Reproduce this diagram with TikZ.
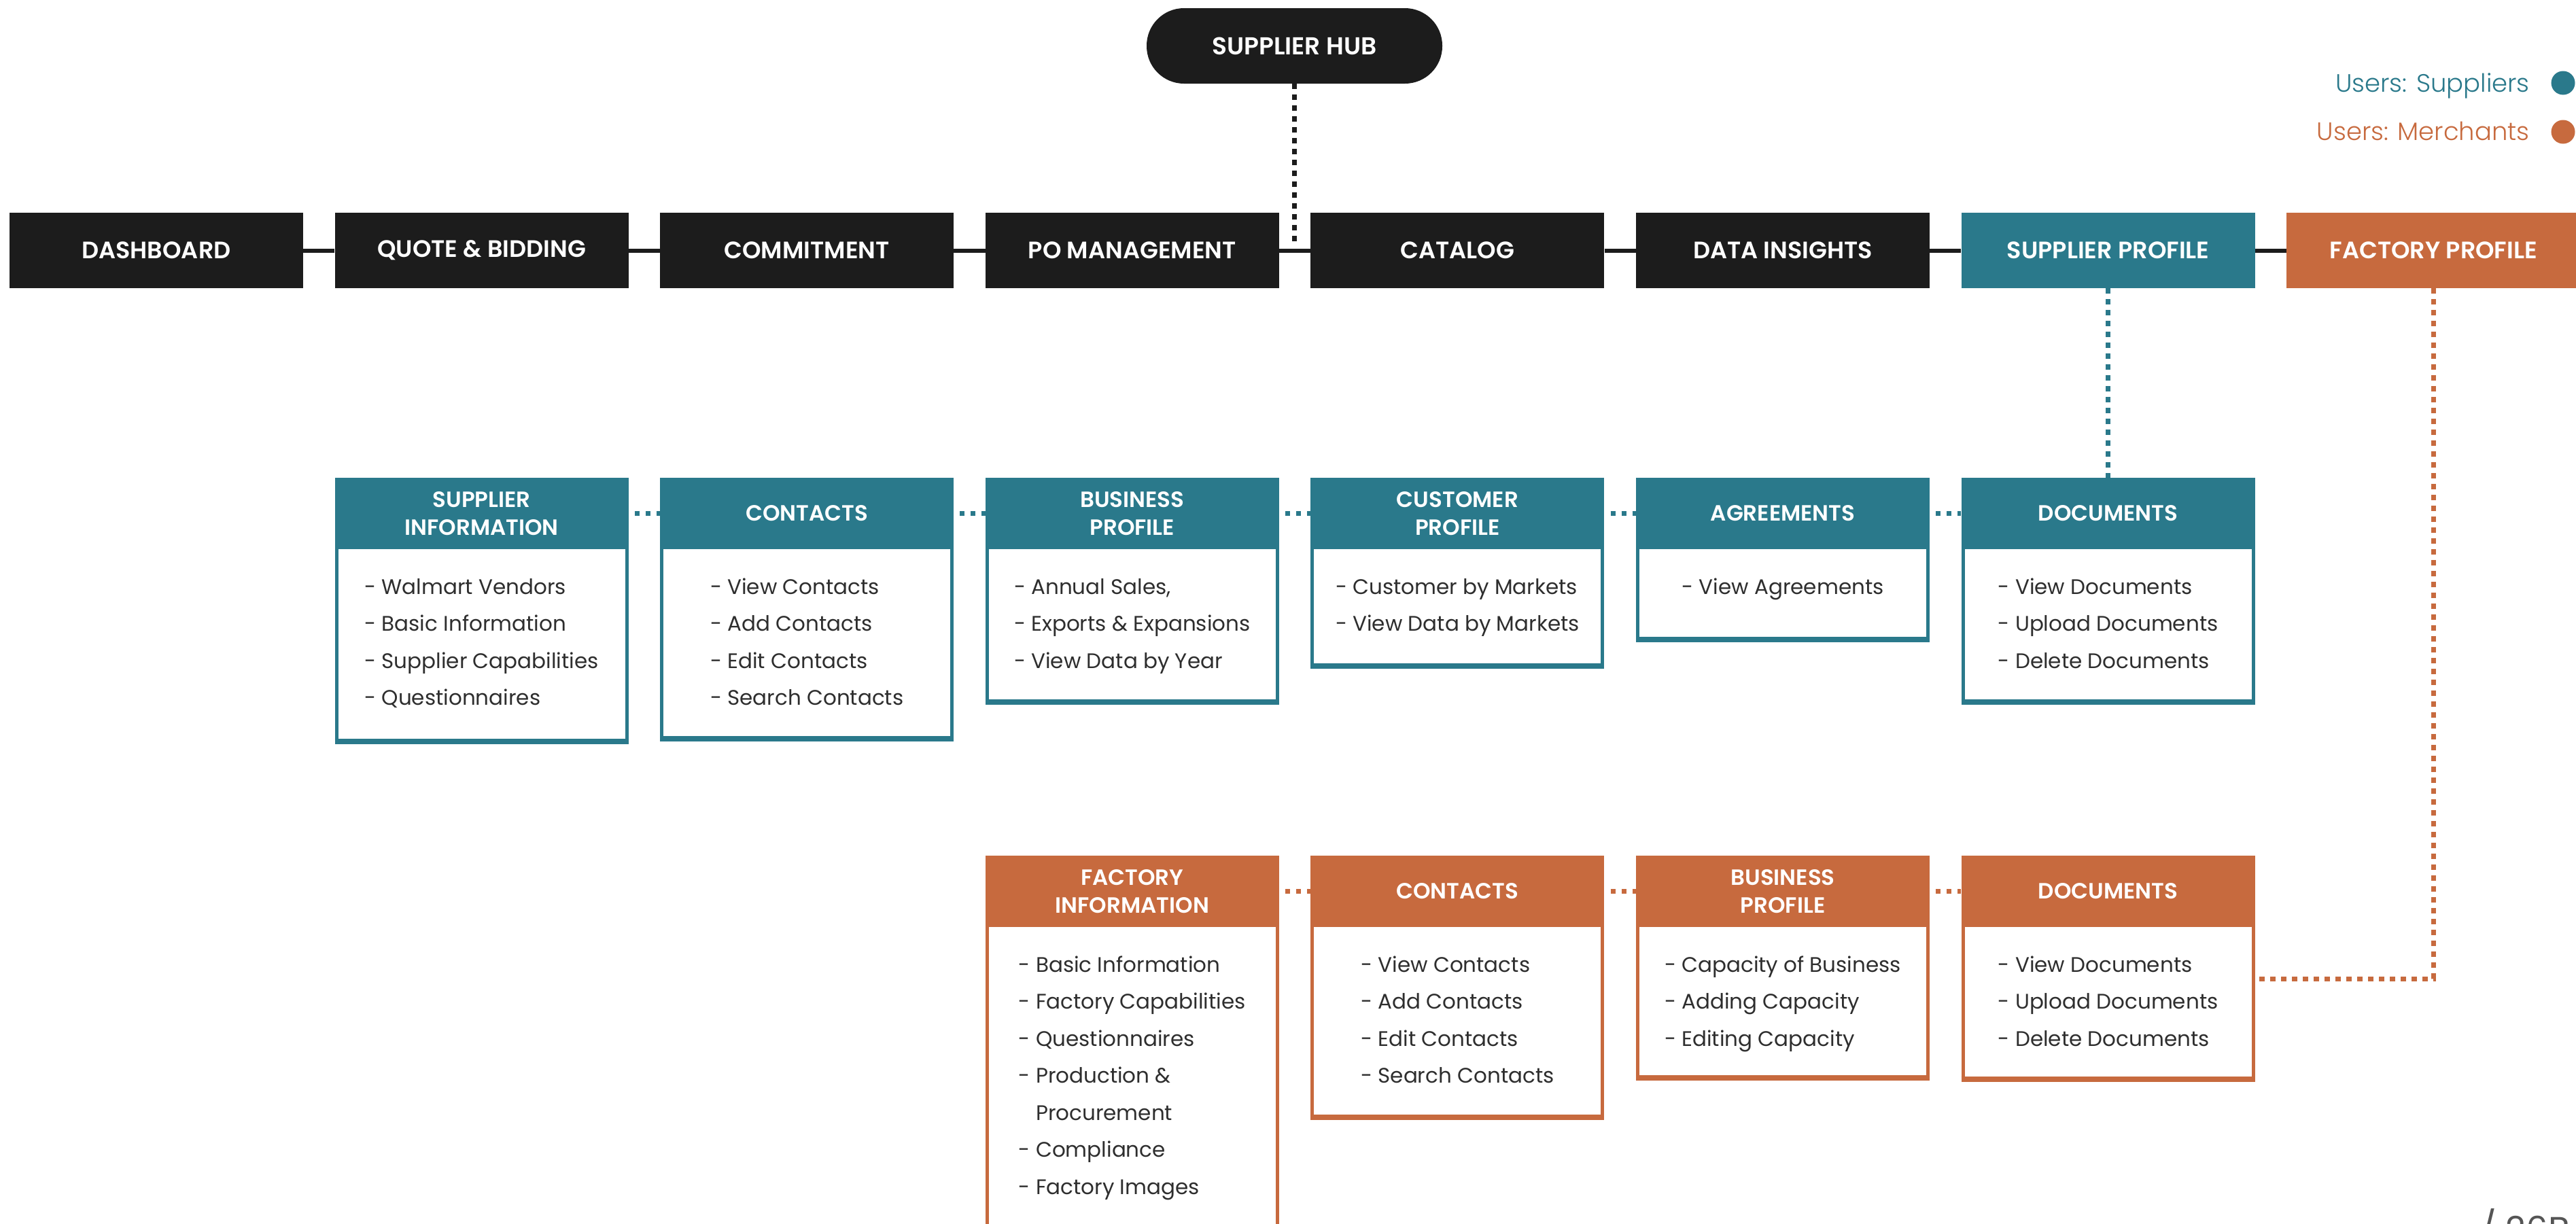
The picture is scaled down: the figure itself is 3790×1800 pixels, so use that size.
\documentclass[tikz,border=0pt]{standalone}
\usepackage{fontspec}
\IfFontExistsTF{Poppins SemiBold}{\setmainfont{Poppins}[BoldFont={Poppins SemiBold}]}{\setmainfont{Poppins}}
\IfFontExistsTF{Poppins Light}{\newfontfamily\legfont{Poppins Light}}{\newfontfamily\legfont{Poppins}}
\definecolor{cTeal}{HTML}{2A798B}
\definecolor{cOrg}{HTML}{C76A3E}
\definecolor{cBlk}{HTML}{1C1C1C}
\definecolor{cTxt}{HTML}{2E2E2E}
\definecolor{cGray}{HTML}{555555}
\newcommand{\mkbox}[7]{%
  \draw[#2, line width=5pt, fill=white] ({#3+2.5},{#4+100}) rectangle ({#3+429.5},{#5-2.5});
  \draw[#2, line width=8pt] ({#3},{#5-4}) -- ({#3+432},{#5-4});
  \node[hdr, fill=#2] (#1) at ({#3+216},{#4+52.5}) {#6};
  \coordinate (#1r) at ({#3+432},{#4+105});
  \node[bodytxt, anchor=north] (#1t) at ({#3+216},{#4+133}) {\rule{0pt}{38pt}#7};
}
\begin{document}
\begin{tikzpicture}[x=1pt,y=-1pt,
  topbox/.style={fill=cBlk, text=white, minimum width=432pt, minimum height=111pt, inner sep=0pt, font=\fontsize{35}{40}\selectfont\bfseries, align=center},
  hdr/.style={text=white, minimum width=432pt, minimum height=105pt, inner sep=0pt, font=\fontsize{32.5}{41}\selectfont\bfseries, align=center},
  bodytxt/.style={text=cTxt, inner sep=0pt, align=left, font=\fontsize{31}{54.5}\selectfont},
  conn/.style={cBlk, line width=6pt},
  kdot/.style={cBlk, line width=7pt, dash pattern=on 8pt off 8pt},
  tdot/.style={cTeal, line width=7pt, dash pattern=on 8pt off 8pt},
  odot/.style={cOrg, line width=7pt, dash pattern=on 8pt off 8pt},
  tdotH/.style={cTeal, line width=7pt, dash pattern=on 7pt off 9pt, dash phase=7pt},
  odotH/.style={cOrg, line width=7pt, dash pattern=on 7pt off 9pt, dash phase=7pt},
  legtxt/.style={anchor=base east, inner sep=0pt, font=\fontsize{37}{42}\selectfont\legfont},
  legdot/.style={circle, minimum size=35pt, inner sep=0pt}
]
\useasboundingbox[fill=white] (0,0) rectangle (3790,1800);

% hub
\node[fill=cBlk, rounded corners=55pt, minimum width=435pt, minimum height=111pt, inner sep=0pt,
      text=white, font=\fontsize{36}{40}\selectfont\bfseries] (hub) at (1904.5,67.5) {SUPPLIER HUB};
\coordinate (hubend) at (1904.5,360);
\draw[kdot] (hub.south) -- (hubend);

% top bar
\node[topbox] (dash) at (230,368.5) {DASHBOARD};
\node[topbox] (quote) at (708.6,368.5) {QUOTE \& BIDDING};
\node[topbox] (commit) at (1187.2,368.5) {COMMITMENT};
\node[topbox] (po) at (1665.8,368.5) {PO MANAGEMENT};
\node[topbox] (cat) at (2144.4,368.5) {CATALOG};
\node[topbox] (data) at (2623,368.5) {DATA INSIGHTS};
\node[topbox, fill=cTeal] (supprof) at (3101.6,368.5) {SUPPLIER PROFILE};
\node[topbox, fill=cOrg] (facprof) at (3580.2,368.5) {FACTORY PROFILE};
\draw[conn] (dash) -- (quote);
\draw[conn] (quote) -- (commit);
\draw[conn] (commit) -- (po);
\draw[conn] (po) -- (cat);
\draw[conn] (cat) -- (data);
\draw[conn] (data) -- (supprof);
\draw[conn] (supprof) -- (facprof);

% legend
\node[legtxt, text=cTeal] (lsup) at (3722,135) {Users: Suppliers};
\node[legdot, fill=cTeal] (lsupdot) at (3771,122) {};
\node[legtxt, text=cOrg] (lmer) at (3722,206) {Users: Merchants};
\node[legdot, fill=cOrg] (lmerdot) at (3771,194) {};

% supplier row
\mkbox{si}{cTeal}{492.6}{703}{1095}{SUPPLIER\\INFORMATION}{- Walmart Vendors\\- Basic Information\\- Supplier Capabilities\\- Questionnaires}
\mkbox{scon}{cTeal}{971.2}{703}{1091}{CONTACTS}{- View Contacts\\- Add Contacts\\- Edit Contacts\\- Search Contacts}
\mkbox{sbp}{cTeal}{1449.8}{703}{1037}{BUSINESS\\PROFILE}{- Annual Sales,\\- Exports \& Expansions\\- View Data by Year}
\mkbox{scp}{cTeal}{1928.4}{703}{984}{CUSTOMER\\PROFILE}{- Customer by Markets\\- View Data by Markets}
\mkbox{sag}{cTeal}{2407}{703}{945}{AGREEMENTS}{- View Agreements}
\mkbox{sdoc}{cTeal}{2885.6}{703}{1037}{DOCUMENTS}{- View Documents\\- Upload Documents\\- Delete Documents}
\draw[tdotH] (si) -- (scon);
\draw[tdotH] (scon) -- (sbp);
\draw[tdotH] (sbp) -- (scp);
\draw[tdotH] (scp) -- (sag);
\draw[tdotH] (sag) -- (sdoc);
\draw[tdot] (supprof.south) -- (sdoc.north);

% factory row
\mkbox{fi}{cOrg}{1449.8}{1259}{1840}{FACTORY\\INFORMATION}{- Basic Information\\- Factory Capabilities\\- Questionnaires\\- Production \&\\\hphantom{- }Procurement\\- Compliance\\- Factory Images}
\mkbox{fcon}{cOrg}{1928.4}{1259}{1648}{CONTACTS}{- View Contacts\\- Add Contacts\\- Edit Contacts\\- Search Contacts}
\mkbox{fbp}{cOrg}{2407}{1259}{1590}{BUSINESS\\PROFILE}{- Capacity of Business\\- Adding Capacity\\- Editing Capacity}
\mkbox{fdoc}{cOrg}{2885.6}{1259}{1592}{DOCUMENTS}{- View Documents\\- Upload Documents\\- Delete Documents}
\draw[odotH] (fi) -- (fcon);
\draw[odotH] (fcon) -- (fbp);
\draw[odotH] (fbp) -- (fdoc);
\coordinate (fjoin) at (3580.2,1440);
\draw[odot] (facprof.south) -- (fjoin) -- (fjoin -| fdocr);

% page mark
\node[anchor=north west, inner sep=0pt, text=cGray, font=\fontsize{52}{60}\selectfont] (pg) at (3648,1778) {/ 26B};
\end{tikzpicture}
\end{document}
